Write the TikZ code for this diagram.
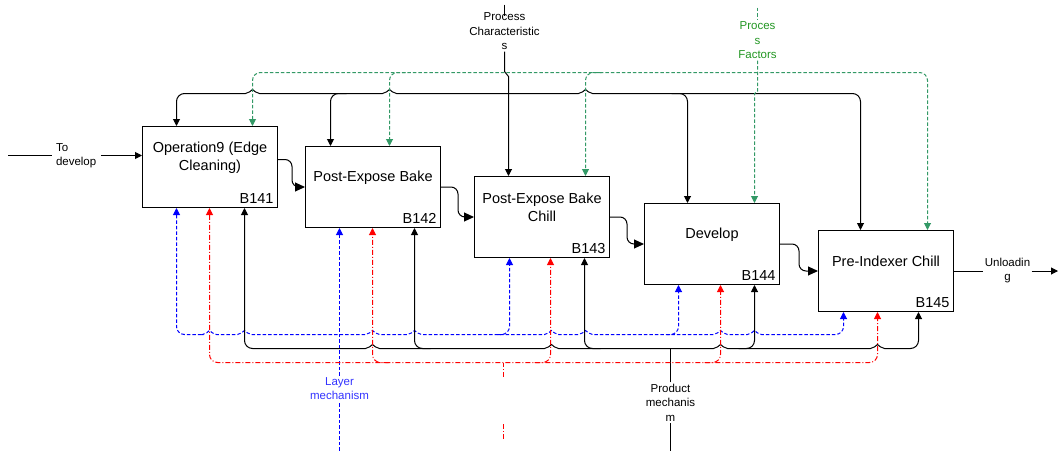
\documentclass[tikz,border=0pt]{standalone}
\usepackage{fontspec}
\setmainfont{Liberation Sans}
\usepackage{tikz}
\usetikzlibrary{arrows.meta,positioning}
\definecolor{pfline}{RGB}{51,153,102}
\definecolor{pftext}{RGB}{34,150,34}
\definecolor{lmtext}{RGB}{51,51,255}
\newcommand\hopx[2]{-- (#1-7,#2) .. controls (#1-4,#2) and (#1-1.5,#2-3) .. (#1,#2-4) .. controls (#1+1.5,#2-3) and (#1+4,#2) .. (#1+7,#2)}

\begin{document}
\begin{tikzpicture}[x=1pt, y=-1pt, line width=1pt,
                    >={Triangle[length=7pt,width=7pt]},
                    act/.style = {draw, minimum width=135pt, minimum height=81pt},
                    actxt/.style = {font=\fontsize{14.5}{17.5}\selectfont, align=center},
                    bid/.style = {font=\fontsize{14.5}{17}\selectfont, anchor=south east, inner sep=4pt},
                    lbl/.style = {font=\fontsize{11.5}{14.5}\selectfont, align=center, inner sep=1pt},
                    flow/.style = {-{Triangle[length=10pt,width=9pt]}, rounded corners=7pt},
                    pfac/.style = {draw=pfline, dash pattern=on 3.5pt off 2pt},
                    lmech/.style = {draw=blue, dash pattern=on 3.5pt off 2pt},
                    rmech/.style = {draw=red, dash pattern=on 5pt off 2pt on 1pt off 2pt}]
    \useasboundingbox (-0.5,-0.5) rectangle (1057.5,449.5);

    \node[act] (nb141) at (209.5,166.5) {};
    \node[act] (nb142) at (372.5,186.5) {};
    \node[act] (nb143) at (541.5,216.5) {};
    \node[act] (nb144) at (711.5,243.5) {};
    \node[act] (nb145) at (885.5,270.5) {};
    \node[actxt] (nt141) at ([yshift=9.5pt]nb141.center) {Operation9 (Edge\\Cleaning)};
    \node[actxt] (nt142) at ([yshift=9.5pt]nb142.center) {Post-Expose Bake};
    \node[actxt] (nt143) at ([yshift=9.5pt]nb143.center) {Post-Expose Bake\\Chill};
    \node[actxt] (nt144) at ([yshift=9.5pt]nb144.center) {Develop};
    \node[actxt] (nt145) at ([yshift=9.5pt]nb145.center) {Pre-Indexer Chill};
    \node[bid] (ni141) at (nb141.south east) {B141};
    \node[bid] (ni142) at (nb142.south east) {B142};
    \node[bid] (ni143) at (nb143.south east) {B143};
    \node[bid] (ni144) at (nb144.south east) {B144};
    \node[bid] (ni145) at (nb145.south east) {B145};

    \draw[flow] ([yshift=7.5pt]nb141.east) -- ++(14,0) |- (nb142.west);
    \draw[flow] (nb142.east) -- ++(17,0) |- (nb143.west);
    \draw[flow] (nb143.east) -- ++(17,0) |- (nb144.west);
    \draw[flow] (nb144.east) -- ++(19,0) |- (nb145.west);

    \coordinate (ctd) at (8,155);
    \node[lbl, anchor=west, align=left, inner xsep=4pt] (ntd) at (51,155) {To\\develop};
    \draw (ctd) -- (ntd.west);
    \draw[->] (ntd.east) -- (nb141.west |- ntd.east);

    \coordinate (cun) at (1057.5,270.5);
    \node[lbl] (nun) at (1007,270) {Unloadin\\g};
    \draw (nb145.east) -- (nb145.east -| nun.west);
    \draw[->] (nun.east |- nb145.east) -- (cun);

    \coordinate (cpc) at (504,4);
    \node[lbl] (npc) at (504,31) {Process\\Characteristic\\s};
    \draw (cpc) -- ++(0,11);
    \draw[->] (npc.south) -- ++(0,20) -- ++(4,5) -- (nb143.north -| 508,0);
    \draw[<->] (nb141.north -| 176,0) [rounded corners=8pt] |- (200,93) [sharp corners]
        \hopx{252}{93} \hopx{389}{93} \hopx{585}{93} -- (840,93)
        [rounded corners=8pt] -| (nb145.north -| 860,0);
    \draw[->, rounded corners=8pt] (346,93) -| (nb142.north -| 330,0);
    \draw[->, rounded corners=8pt] (671,93) -| (nb144.north -| 687,0);

    \coordinate (cpf) at (757,7);
    \node[lbl, text=pftext] (npf) at (757,40) {Proces\\s\\Factors};
    \draw[pfac] (cpf) -- (npf.north);
    \draw[pfac, ->] (npf.south) -- ++(0,31) -- ++(-3,2) -- (nb144.north -| 754,0);
    \draw[pfac, <->, rounded corners=8pt] (nb141.north -| 252,0) |- (927,72) -- (nb145.north -| 927,0);
    \draw[pfac, ->, rounded corners=8pt] (405,72) -| (nb142.north -| 389,0);
    \draw[pfac, ->, rounded corners=8pt] (601,72) -| (nb143.north -| 585,0);

    \coordinate (clm) at (339,450);
    \node[lbl, text=lmtext] (nlm) at (339,388) {Layer\\mechanism};
    \draw[lmech] (clm) -- (nlm.south);
    \draw[lmech, ->] (nlm.north) -- (nb142.south -| nlm.north);
    \draw[lmech, <->] (nb141.south -| 176,0) [rounded corners=8pt] |- (195,334) [sharp corners]
        \hopx{209}{334} \hopx{244}{334} \hopx{372}{334} \hopx{414}{334}
        \hopx{551}{334} \hopx{585}{334} \hopx{720}{334} \hopx{754}{334} -- (830,334)
        [rounded corners=8pt] -| (nb145.south -| 843,0);
    \draw[lmech, ->, rounded corners=8pt] (497,334) -| (nb143.south -| 509,0);
    \draw[lmech, ->, rounded corners=8pt] (666,334) -| (nb144.south -| 678,0);

    \coordinate (cpm) at (670,450);
    \node[lbl] (npm) at (670,402) {Product\\mechanis\\m};
    \draw (cpm) -- (npm.south);
    \draw (npm.north) -- (npm.north |- 0,348);
    \draw[<->] (nb141.south -| 244,0) [rounded corners=8pt] |- (260,348) [sharp corners]
        \hopx{372}{348} \hopx{551}{348} \hopx{720}{348} \hopx{877}{348} -- (900,348)
        [rounded corners=8pt] -| (nb145.south -| 918,0);
    \draw[->, rounded corners=8pt] (430,348) -| (nb142.south -| 414,0);
    \draw[->, rounded corners=8pt] (600,348) -| (nb143.south -| 584,0);
    \draw[->, rounded corners=8pt] (738,348) -| (nb144.south -| 754,0);

    \coordinate (crm) at (503,438);
    \coordinate (crg) at (503,422);
    \coordinate (crt) at (503,376);
    \draw[rmech] (crm) -- (crg);
    \draw[rmech] (crt) -- (crt |- 0,362);
    \draw[rmech, <->, rounded corners=8pt] (nb141.south -| 209,0) |- (877,362) -- (nb145.south -| 877,0);
    \draw[rmech, ->, rounded corners=8pt] (388,362) -| (nb142.south -| 372,0);
    \draw[rmech, ->, rounded corners=8pt] (534,362) -| (nb143.south -| 550,0);
    \draw[rmech, ->, rounded corners=8pt] (704,362) -| (nb144.south -| 720,0);
\end{tikzpicture}
\end{document}
